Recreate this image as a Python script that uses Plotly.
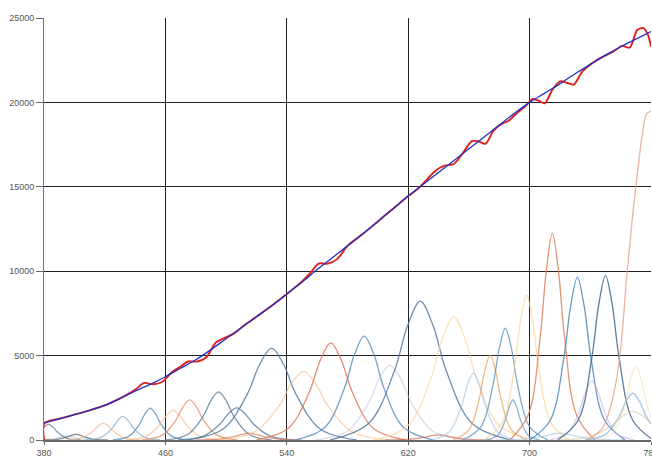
import plotly.graph_objects as go

# ---- axis ticks ----
x_ticks = [380, 460, 540, 620, 700, 780]
y_ticks = [0, 5000, 10000, 15000, 20000, 25000]

# ---- smooth fit (blue) ----
fit_x = [380, 390, 400, 410, 420, 430, 440, 450, 460, 470, 480, 490, 500, 510, 520,
         530, 540, 550, 560, 570, 580, 590, 600, 610, 620, 630, 640, 650, 660, 670,
         680, 690, 700, 710, 720, 730, 740, 750, 760, 770, 780]
fit_y = [1000, 1250, 1500, 1750, 2050, 2450, 2900, 3300, 3750, 4250, 4750, 5350, 6000,
         6650, 7300, 7950, 8650, 9350, 10100, 10800, 11500, 12200, 12950, 13700, 14450,
         15150, 15850, 16550, 17250, 17950, 18650, 19350, 20000, 20550, 21100, 21700,
         22250, 22800, 23300, 23750, 24200]

# ---- measured spectrum (red) ----
meas_x = [380, 380.3, 390, 400, 410, 420, 430, 440, 446, 452, 458, 464, 470, 475, 481,
          487, 493, 499, 505, 512, 520, 530, 540, 550, 556, 561, 567, 573, 580, 590,
          600, 610, 620, 626, 632, 638, 644, 650, 656, 662, 666, 671, 676, 681, 686,
          692, 697, 702, 706, 710, 715, 720, 725, 729, 735, 745, 755, 761, 766, 771,
          775, 778, 780]
meas_y = [0, 1000, 1260, 1500, 1760, 2050, 2470, 2980, 3380, 3300, 3450, 4000, 4350,
          4650, 4650, 4900, 5750, 6050, 6300, 6800, 7300, 7950, 8650, 9400, 9950, 10450,
          10450, 10700, 11500, 12200, 12950, 13700, 14450, 14850, 15400, 15950, 16250,
          16350, 17000, 17700, 17700, 17550, 18300, 18700, 18900, 19400, 19750, 20200,
          20100, 19950, 20750, 21250, 21150, 21050, 21850, 22550, 23000, 23350, 23250,
          24300, 24400, 24000, 23300]

# ---- component bands (x, y) ----
peak_383 = [(362, 0), (371, 110), (377, 460), (380, 754), (383, 920), (386, 754), (389, 460), (395, 110), (404, 0)]
peak_395 = [(374, 0), (383, 30), (389, 125), (392, 205), (395, 250), (398, 205), (401, 125), (407, 30), (416, 0)]
peak_401 = [(380, 0), (389, 40), (395, 165), (398, 271), (401, 330), (404, 271), (407, 165), (413, 40), (422, 0)]
peak_419 = [(394.5, 0), (405, 120), (412, 500), (415.5, 820), (419, 1000), (422.5, 820), (426, 500), (433, 120), (443.5, 0)]
peak_432 = [(407.5, 0), (418, 168), (425, 700), (428.5, 1148), (432, 1400), (435.5, 1148), (439, 700), (446, 168), (456.5, 0)]
peak_450 = [(425.5, 0), (436, 227), (443, 945), (446.5, 1550), (450, 1890), (453.5, 1550), (457, 945), (464, 227), (474.5, 0)]
peak_465 = [(433.5, 0), (447, 210), (456, 875), (460.5, 1435), (465, 1750), (469.5, 1435), (474, 875), (483, 210), (496.5, 0)]
peak_476 = [(444.5, 0), (458, 286), (467, 1190), (471.5, 1952), (476, 2380), (480.5, 1952), (485, 1190), (494, 286), (507.5, 0)]
peak_495 = [(460, 0), (475, 342), (485, 1425), (490, 2337), (495, 2850), (500, 2337), (505, 1425), (515, 342), (530, 0)]
peak_507 = [(468.5, 0), (485, 228), (496, 950), (501.5, 1558), (507, 1900), (512.5, 1558), (518, 950), (529, 228), (545.5, 0)]
peak_515 = [(480, 0), (495, 48), (505, 200), (510, 328), (515, 400), (520, 328), (525, 200), (535, 48), (550, 0)]
peak_530 = [(474, 0), (498, 653), (514, 2720), (522, 4461), (530, 5440), (538, 4461), (546, 2720), (562, 653), (586, 0)]
peak_551 = [(495, 0), (519, 488), (535, 2035), (543, 3337), (551, 4070), (559, 3337), (567, 2035), (583, 488), (607, 0)]
peak_569 = [(520, 0), (541, 690), (555, 2875), (562, 4715), (569, 5750), (576, 4715), (583, 2875), (597, 690), (618, 0)]
peak_591 = [(545.5, 0), (565, 738), (578, 3075), (584.5, 5043), (591, 6150), (597.5, 5043), (604, 3075), (617, 738), (636.5, 0)]
peak_608 = [(559, 0), (580, 533), (594, 2220), (601, 3641), (608, 4440), (615, 3641), (622, 2220), (636, 533), (657, 0)]
peak_628 = [(568.5, 0), (594, 988), (611, 4115), (619.5, 6749), (628, 8230), (636.5, 6749), (645, 4115), (662, 988), (687.5, 0)]
peak_640 = [(605, 0), (620, 36), (630, 150), (635, 246), (640, 300), (645, 246), (650, 150), (660, 36), (675, 0)]
peak_650 = [(597.5, 0), (620, 876), (635, 3650), (642.5, 5986), (650, 7300), (657.5, 5986), (665, 3650), (680, 876), (702.5, 0)]
peak_663 = [(635, 0), (647, 475), (655, 1980), (659, 3247), (663, 3960), (667, 3247), (671, 1980), (679, 475), (691, 0)]
peak_674 = [(649.5, 0), (660, 604), (667, 2515), (670.5, 4125), (674, 5030), (677.5, 4125), (681, 2515), (688, 604), (698.5, 0)]
peak_684 = [(656, 0), (668, 794), (676, 3310), (680, 5428), (684, 6620), (688, 5428), (692, 3310), (700, 794), (712, 0)]
peak_689 = [(671.5, 0), (679, 284), (684, 1185), (686.5, 1943), (689, 2370), (691.5, 1943), (694, 1185), (699, 284), (706.5, 0)]
peak_698 = [(670, 0), (682, 1031), (690, 4295), (694, 7044), (698, 8590), (702, 7044), (706, 4295), (714, 1031), (726, 0)]
peak_715 = [(687, 0), (699, 1469), (707, 6120), (711, 10037), (715, 12240), (719, 10037), (723, 6120), (731, 1469), (743, 0)]
peak_720 = [(678, 0), (696, 48), (708, 200), (714, 328), (720, 400), (726, 328), (732, 200), (744, 48), (762, 0)]
peak_731 = [(700, 0), (713.5, 1157), (722.5, 4820), (727, 7905), (731.5, 9640), (736, 7905), (740.5, 4820), (749.5, 1157), (763, 0)]
peak_741 = [(713, 0), (725, 420), (733, 1750), (737, 2870), (741, 3500), (745, 2870), (749, 1750), (757, 420), (769, 0)]
peak_750 = [(718.5, 0), (732, 1169), (741, 4870), (745.5, 7987), (750, 9740), (754.5, 7987), (759, 4870), (768, 1169), (781.5, 0)]
peak_768 = [(736.5, 0), (750, 332), (759, 1385), (763.5, 2271), (768, 2770), (772.5, 2271), (777, 1385), (786, 332), (799.5, 0)]
band_768 = [(719, 0), (740, 204), (754, 850), (761, 1394), (768, 1700), (775, 1394), (782, 850), (796, 204), (817, 0)]
peak_770 = [(745.5, 0), (756, 528), (763, 2200), (766.5, 3608), (770, 4400), (773.5, 3608), (777, 2200), (784, 528), (794.5, 0)]
rise_780 = [(738, 0), (748, 700), (754, 2200), (758, 4000), (761, 6300), (764, 9700), (767, 12500), (770, 15000), (774, 17900), (777, 19300), (780, 19500)]

components = [
    (peak_395, "#9cc3dd", 0.6), (peak_383, "#6d8ca6", 0.8), (peak_401, "#555555", 0.7),
    (peak_419, "#f3b48a", 0.7), (peak_432, "#8db4d2", 0.8), (peak_450, "#5d8fbb", 0.8),
    (peak_465, "#f6c28e", 0.7), (peak_476, "#e8926c", 0.8), (peak_495, "#6a879f", 0.85),
    (peak_507, "#5d84a8", 0.85), (peak_515, "#d9775a", 0.7), (peak_530, "#5b7fa5", 0.85),
    (peak_551, "#f6c791", 0.7), (peak_569, "#e07b5d", 0.85), (peak_591, "#6193c0", 0.85),
    (peak_608, "#c7badb", 0.55), (peak_628, "#5a7b9e", 0.85), (peak_640, "#c8553d", 0.6),
    (peak_650, "#f8d69c", 0.7), (peak_663, "#a9c9e2", 0.7), (peak_674, "#eda55c", 0.75),
    (peak_684, "#6b9cc4", 0.85), (peak_689, "#6b9cc4", 0.75), (peak_698, "#f6d48e", 0.65),
    (peak_715, "#e0825f", 0.85), (peak_720, "#9fc6e0", 0.6), (peak_731, "#4f88bb", 0.85),
    (peak_741, "#c3b3d8", 0.6), (peak_750, "#4e7094", 0.9), (peak_768, "#88bbda", 0.8),
    (band_768, "#d8c8a2", 0.6), (peak_770, "#f8dca6", 0.5), (rise_780, "#e6a385", 0.8),
]

fig = go.Figure()
for pts, color, op in components:
    fig.add_trace(go.Scatter(
        x=[p[0] for p in pts], y=[p[1] for p in pts], mode="lines",
        line=dict(color=color, width=1.3, shape="spline", smoothing=1.0),
        opacity=op, hoverinfo="skip", showlegend=False))

fig.add_trace(go.Scatter(x=meas_x, y=meas_y, mode="lines",
                         line=dict(color="#e0201c", width=1.9, shape="spline", smoothing=0.8),
                         showlegend=False))
fig.add_trace(go.Scatter(x=fit_x, y=fit_y, mode="lines",
                         line=dict(color="#2232c4", width=1.3, shape="spline"),
                         showlegend=False))

tick_font = dict(family="Liberation Sans, Arial, sans-serif", size=9, color="#555555")
fig.update_layout(
    width=652, height=461,
    margin=dict(l=44, r=1, t=18, b=21, autoexpand=False),
    paper_bgcolor="white", plot_bgcolor="white",
    xaxis=dict(range=[380, 780], tickvals=x_ticks, ticktext=[str(v) for v in x_ticks],
               showgrid=True, gridcolor="#222222", gridwidth=1, zeroline=False,
               showline=True, linecolor="#666666", linewidth=2,
               ticklabeloverflow="allow", automargin=False,
               ticks="outside", ticklen=3, tickcolor="#666666", tickfont=tick_font),
    yaxis=dict(range=[0, 25000], tickvals=y_ticks, ticktext=[str(v) for v in y_ticks],
               showgrid=True, gridcolor="#222222", gridwidth=1, zeroline=False,
               showline=True, linecolor="#777777", linewidth=1, automargin=False,
               ticks="outside", ticklen=7, tickcolor="#666666", tickfont=tick_font),
)

fig.write_html("out.html", config={"displayModeBar": False},
               post_script="document.body.style.margin='0';document.body.style.overflow='hidden';")
